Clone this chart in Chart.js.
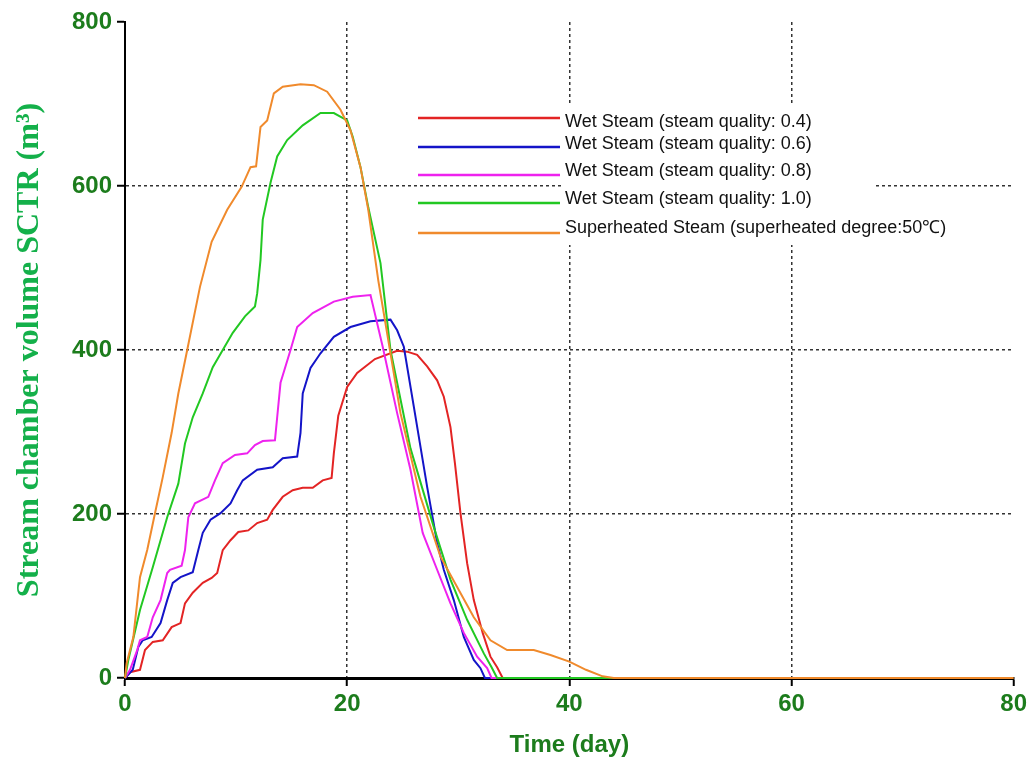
<!DOCTYPE html>
<html>
<head>
<meta charset="utf-8">
<title>Stream chamber volume</title>
<script src="https://cdn.jsdelivr.net/npm/chart.js@4/dist/chart.umd.min.js"></script>
<style>
  body { margin: 0; background: #fff; }
  #wrap { width: 1031px; height: 766px; position: relative; }
</style>
</head>
<body>
<div id="wrap"><canvas id="chart"></canvas></div>
<script>
// series labels
const seriesNames = [
  "Wet Steam (steam quality: 0.4)",
  "Wet Steam (steam quality: 0.6)",
  "Wet Steam (steam quality: 0.8)",
  "Wet Steam (steam quality: 1.0)",
  "Superheated Steam (superheated degree:50\u2103)"
]

// values (day, m3)
const q04Days = [0, 0.45, 1.35, 1.8, 2.5, 3.4, 4.2, 5.0, 5.4, 6.1, 7.0, 7.8, 8.3, 8.8, 9.5, 10.2, 11.1, 11.9, 12.8, 13.3, 14.2, 15.1, 16.0, 16.9, 17.8, 18.6, 18.8, 19.2, 20.0, 20.9, 22.5, 24.5, 25.4, 26.3, 27.2, 28.1, 28.7, 29.3, 29.7, 30.2, 30.8, 31.4, 32.2, 32.9, 33.5, 34.0, 35]
const q04Volume = [0, 7, 10, 34, 44, 46, 62, 67, 91, 104, 116, 122, 128, 156, 168, 178, 180, 189, 193, 205, 221, 229, 232, 232, 241, 244, 274, 320, 355, 372, 389, 399, 398, 394, 380, 363, 343, 306, 262, 201, 140, 95, 55, 26, 13, 0, 0]

const q06Days = [0, 0.7, 1.2, 1.6, 2.4, 3.2, 3.8, 4.3, 5.0, 6.1, 6.6, 7.0, 7.7, 8.6, 9.5, 10.1, 10.6, 11.9, 13.3, 14.2, 15.5, 15.8, 16.0, 16.7, 17.6, 18.8, 20.3, 22.1, 23.9, 24.5, 25.1, 26.0, 27.2, 28.1, 28.7, 29.6, 30.5, 31.4, 32.0, 32.4, 34]
const q06Volume = [0, 10, 38, 46, 50, 67, 95, 116, 123, 129, 156, 177, 193, 201, 213, 229, 241, 254, 257, 268, 270, 299, 347, 378, 396, 416, 428, 435, 437, 424, 404, 331, 233, 165, 132, 95, 50, 22, 12, 0, 0]

const q08Days = [0, 0.45, 1.1, 1.35, 2.0, 2.5, 3.2, 3.8, 4.05, 5.1, 5.4, 5.7, 6.3, 7.5, 8.1, 8.8, 9.9, 11.0, 11.7, 12.4, 13.5, 13.7, 14.0, 14.9, 15.5, 16.9, 18.8, 20.5, 22.1, 23.2, 24.5, 25.7, 26.8, 28.1, 29.3, 30.5, 31.7, 32.6, 33.0, 34]
const q08Volume = [0, 10, 34, 46, 50, 74, 95, 128, 132, 137, 156, 196, 213, 221, 241, 262, 272, 274, 284, 289, 290, 318, 360, 400, 428, 445, 459, 465, 467, 404, 323, 254, 177, 132, 91, 55, 26, 12, 0, 0]

const q10Days = [0, 0.3, 1.35, 2.5, 3.8, 4.8, 5.4, 6.1, 7.0, 7.9, 8.8, 9.7, 10.8, 11.7, 11.9, 12.2, 12.4, 13.1, 13.7, 14.6, 16.0, 17.6, 18.8, 20.0, 20.5, 21.2, 21.9, 23.0, 23.9, 25.7, 27.8, 29.3, 30.8, 32.3, 33.0, 33.5, 44]
const q10Volume = [0, 22, 83, 135, 196, 237, 286, 318, 347, 379, 400, 421, 441, 453, 469, 510, 559, 604, 636, 656, 674, 689, 689, 680, 660, 623, 574, 506, 400, 280, 184, 120, 71, 30, 13, 0, 0]

const shDays = [0, 0.15, 0.75, 1.35, 2.0, 2.7, 3.4, 4.2, 4.8, 5.6, 6.75, 7.8, 9.2, 10.5, 11.3, 11.8, 12.2, 12.8, 13.4, 14.2, 15.8, 17.0, 18.2, 19.4, 20.3, 21.2, 21.9, 22.8, 24.8, 26.6, 28.4, 29.9, 31.4, 32.9, 34.4, 36.8, 38.3, 40, 41.5, 43, 44, 80]
const shVolume = [0, 18, 50, 123, 156, 201, 245, 299, 347, 400, 477, 532, 571, 599, 623, 624, 672, 680, 713, 721, 724, 723, 715, 693, 668, 623, 571, 485, 323, 221, 148, 111, 74, 46, 34, 34, 28, 20, 10, 2, 0, 0]

// axis ticks
const xTicks = [0, 20, 40, 60, 80]
const yTicks = [0, 200, 400, 600, 800]

const colors = ["#e32424", "#1414c8", "#ee22ee", "#22c822", "#f08a2c"]

function toPoints(days, vols) {
  return days.map((d, i) => ({ x: d, y: vols[i] }))
}

const allDays = [q04Days, q06Days, q08Days, q10Days, shDays]
const allVols = [q04Volume, q06Volume, q08Volume, q10Volume, shVolume]
const drawOrder = [4, 3, 2, 1, 0]

const datasets = seriesNames.map((name, i) => ({
  label: name,
  data: toPoints(allDays[i], allVols[i]),
  borderColor: colors[i],
  backgroundColor: colors[i],
  borderWidth: 2,
  pointRadius: 0,
  tension: 0,
  clip: false,
  order: drawOrder[i],
}))

const tickGreen = "#1c7c1c"

// legend drawn inside the plot, with a white box behind the text
const insideLegend = {
  id: "insideLegend",
  beforeDatasetsDraw(chart) {
    const ctx = chart.ctx
    const lineY = [118, 147, 175, 203, 233]
    const textY = [122, 144, 171, 199, 228]
    ctx.save()
    ctx.fillStyle = "#fff"
    ctx.fillRect(562, 105, 313, 140)
    ctx.font = "18px 'Liberation Sans', Arial, sans-serif"
    ctx.textBaseline = "middle"
    chart.data.datasets.forEach((ds, i) => {
      const w = ctx.measureText(ds.label).width
      ctx.fillStyle = "#fff"
      ctx.fillRect(562, textY[i] - 12, w + 6, 24)
      ctx.strokeStyle = ds.borderColor
      ctx.lineWidth = 2.5
      ctx.beginPath()
      ctx.moveTo(418, lineY[i])
      ctx.lineTo(560, lineY[i])
      ctx.stroke()
      ctx.fillStyle = "#111"
      ctx.fillText(ds.label, 565, textY[i])
    })
    ctx.restore()
  },
}

new Chart(document.getElementById("chart"), {
  type: "line",
  data: { datasets: datasets },
  plugins: [insideLegend],
  options: {
    responsive: true,
    maintainAspectRatio: false,
    animation: false,
    layout: { padding: { top: 22, right: 16, left: 0, bottom: 0 } },
    plugins: {
      legend: { display: false },
      tooltip: { enabled: false },
    },
    scales: {
      x: {
        type: "linear",
        min: 0,
        max: 80,
        afterFit: (s) => { s.height = 88 },
        afterBuildTicks: (s) => { s.ticks = xTicks.map((v) => ({ value: v })) },
        grid: {
          color: (c) => (c.tick && (c.tick.value === 0 || c.tick.value === 80) ? "rgba(0,0,0,0)" : "#333"),
          lineWidth: 1.5,
          tickColor: "#000",
          tickLength: 8,
          tickWidth: 2,
        },
        border: { color: "#000", width: 3, dash: [3, 3] },
        ticks: {
          color: tickGreen,
          padding: 4,
          maxRotation: 0,
          font: { family: "'Liberation Sans', Arial, sans-serif", size: 24, weight: "bold" },
        },
        title: {
          display: true,
          text: "Time (day)",
          color: tickGreen,
          padding: { top: 0, bottom: 6 },
          font: { family: "'Liberation Sans', Arial, sans-serif", size: 24, weight: "bold" },
        },
      },
      y: {
        min: 0,
        max: 800,
        afterFit: (s) => { s.width = 125 },
        afterBuildTicks: (s) => { s.ticks = yTicks.map((v) => ({ value: v })) },
        grid: {
          color: (c) => (c.tick && (c.tick.value === 0 || c.tick.value === 800) ? "rgba(0,0,0,0)" : "#333"),
          lineWidth: 1.5,
          tickColor: "#000",
          tickLength: 8,
          tickWidth: 2,
        },
        border: { color: "#000", width: 2, dash: [3, 3] },
        ticks: {
          color: tickGreen,
          padding: 5,
          font: { family: "'Liberation Sans', Arial, sans-serif", size: 24, weight: "bold" },
        },
        title: {
          display: true,
          text: "Stream chamber volume SCTR (m\u00b3)",
          color: "#14b04a",
          padding: { top: 11, bottom: 0 },
          font: { family: "'Liberation Serif', 'Times New Roman', serif", size: 32, weight: "bold" },
        },
      },
    },
  },
})
</script>
</body>
</html>
